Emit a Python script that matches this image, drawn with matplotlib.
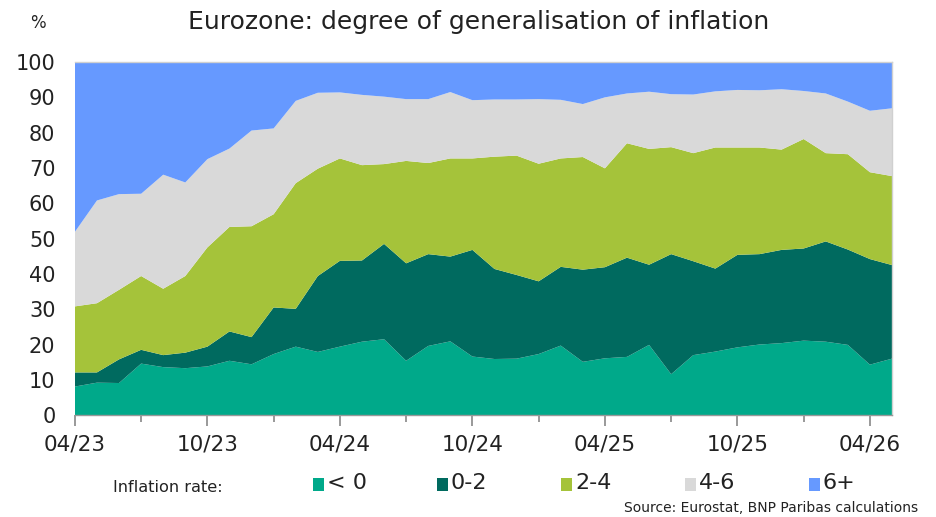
import numpy as np
import matplotlib
matplotlib.use("Agg")
import matplotlib.pyplot as plt
from matplotlib.patches import Rectangle

# monthly, 04/23 .. 05/26 (share of HICP items, %)
months = list(range(38))
tick_labels = ["04/23", "10/23", "04/24", "10/24", "04/25", "10/25", "04/26"]

below_0 = [8.1, 9.2, 9.1, 14.6, 13.6, 13.3, 13.8, 15.4, 14.4, 17.3, 19.4, 17.9, 19.4,
           20.8, 21.5, 15.4, 19.6, 20.9, 16.6, 15.9, 16.0, 17.3, 19.7, 15.1, 16.1, 16.5,
           19.9, 11.6, 17.0, 18.0, 19.2, 20.0, 20.4, 21.1, 20.8, 19.9, 14.3, 16.0]
r_0_2 = [4.0, 2.9, 6.7, 3.9, 3.4, 4.4, 5.6, 8.3, 7.7, 13.2, 10.7, 21.5, 24.3,
         23.0, 27.0, 27.6, 26.0, 24.0, 30.2, 25.5, 23.7, 20.6, 22.3, 26.1, 25.8, 28.1,
         22.7, 34.0, 26.6, 23.5, 26.2, 25.6, 26.4, 26.1, 28.4, 27.0, 29.9, 26.5]
r_2_4 = [18.7, 19.6, 19.7, 20.9, 18.8, 21.7, 28.1, 29.6, 31.4, 26.4, 35.6, 30.4, 29.0,
         27.0, 22.6, 29.0, 25.8, 27.8, 25.9, 31.8, 33.8, 33.3, 30.7, 31.9, 28.0, 32.4,
         32.8, 30.3, 30.6, 34.3, 30.4, 30.2, 28.4, 31.0, 25.0, 27.0, 24.6, 25.2]
r_4_6 = [21.1, 29.1, 27.1, 23.3, 32.3, 26.5, 25.0, 22.2, 27.1, 24.3, 23.3, 21.5, 18.7,
         19.9, 19.1, 17.5, 18.1, 18.8, 16.5, 16.2, 15.9, 18.3, 16.6, 15.0, 20.1, 14.1,
         16.2, 15.0, 16.6, 15.9, 16.3, 16.2, 17.1, 13.6, 16.9, 14.9, 17.4, 19.2]
above_6 = [48.1, 39.2, 37.4, 37.3, 31.9, 34.1, 27.5, 24.5, 19.4, 18.8, 11.0, 8.7, 8.6,
           9.3, 9.8, 10.5, 10.5, 8.5, 10.8, 10.6, 10.6, 10.5, 10.7, 11.9, 10.0, 8.9,
           8.4, 9.1, 9.2, 8.3, 7.9, 8.0, 7.7, 8.2, 8.9, 11.2, 13.8, 13.1]

labels = ["< 0", "0-2", "2-4", "4-6", "6+"]
colors = ["#00a98a", "#006a5f", "#a5c33a", "#d9d9d9", "#6699ff"]

plt.rcParams["font.family"] = ["DejaVu Sans"]
text_color = "#222222"

fig = plt.figure(figsize=(9.36, 5.17), dpi=100)
ax = fig.add_axes([0.080, 0.197, 0.873, 0.683])

ax.stackplot(months, below_0, r_0_2, r_2_4, r_4_6, above_6,
             colors=colors, linewidth=0)

ax.set_xlim(0, 37)
ax.set_ylim(0, 100)
ax.set_yticks(range(0, 101, 10))
ax.set_xticks(range(0, 38, 6))
ax.set_xticklabels(tick_labels)
ax.set_xticks(range(3, 38, 6), minor=True)
ax.tick_params(axis="y", length=0, labelsize=15, pad=14, colors=text_color)
ax.tick_params(axis="x", which="major", length=8, width=1.2, color="#888888",
               labelsize=15.5, pad=6, labelcolor=text_color)
ax.tick_params(axis="x", which="minor", length=5, width=1.2, color="#888888")
for spine in ax.spines.values():
    spine.set_color("#d0d0d0")
    spine.set_linewidth(1)
ax.spines["bottom"].set_color("#999999")
ax.spines["left"].set_visible(False)

fig.text(0.511, 0.958, "Eurozone: degree of generalisation of inflation",
         ha="center", va="center", fontsize=18, color=text_color)
fig.text(0.040, 0.955, "%", ha="center", va="center", fontsize=12, color=text_color)

# legend row, laid out by hand to keep the even spacing (pixel positions)
W, H = 936, 517
fig.text(113 / W, 1 - 487 / H, "Inflation rate:", ha="left", va="center",
         fontsize=11.6, color=text_color)
for i, (lab, col) in enumerate(zip(labels, colors)):
    x0 = 313 + 124 * i
    fig.patches.append(Rectangle((x0 / W, 1 - 491 / H), 11 / W, 13 / H,
                                 transform=fig.transFigure, facecolor=col,
                                 edgecolor="none"))
    fig.text((x0 + 14) / W, 1 - 483 / H, lab, ha="left", va="center",
             fontsize=16, color=text_color)

fig.text(0.981, 0.017, "Source: Eurostat, BNP Paribas calculations",
         ha="right", va="center", fontsize=10, color=text_color)

fig.savefig("out.png", dpi=100)
